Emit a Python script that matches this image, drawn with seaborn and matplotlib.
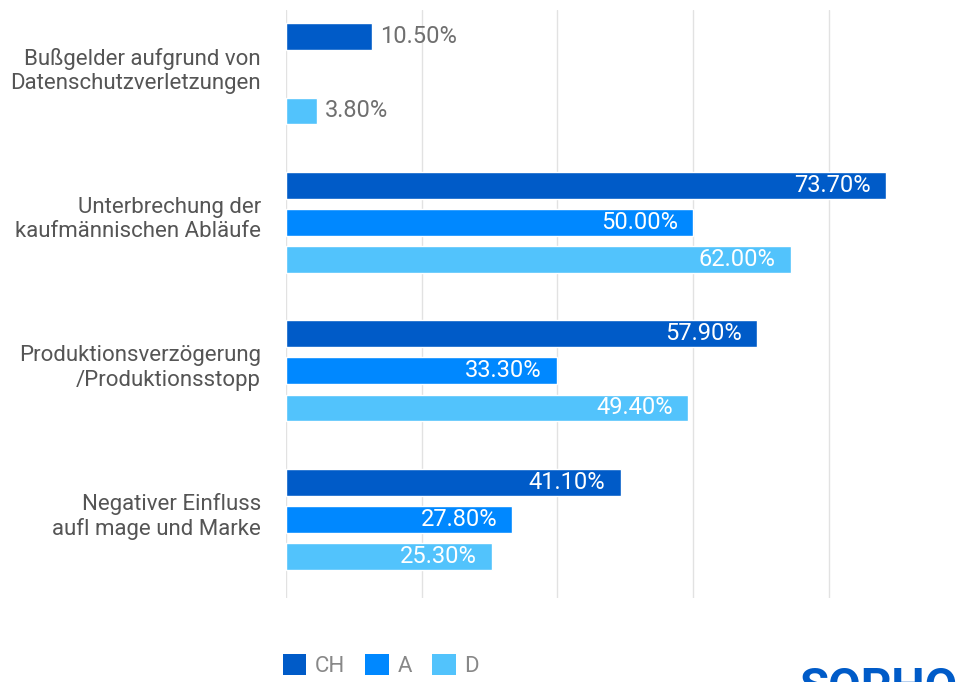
import numpy as np
import pandas as pd
import matplotlib
matplotlib.use("Agg")
import matplotlib.pyplot as plt
import matplotlib.transforms as mtransforms
from matplotlib.patches import Patch
import seaborn as sns

# Consequences of cyber attacks, share of respondents per country
categories = [
    "Bußgelder aufgrund von\nDatenschutzverletzungen",
    "Unterbrechung der\nkaufmännischen Abläufe",
    "Produktionsverzögerung\n/Produktionsstopp",
    "Negativer Einfluss\naufl mage und Marke",
]
countries = ["CH", "A", "D"]
ch_values = [10.5, 73.7, 57.9, 41.1]
a_values = [np.nan, 50.0, 33.3, 27.8]
d_values = [3.8, 62.0, 49.4, 25.3]
colors = ["#005BC8", "#0088FF", "#52C3FC"]

df = pd.DataFrame({
    "Kategorie": categories * 3,
    "Land": ["CH"] * 4 + ["A"] * 4 + ["D"] * 4,
    "Wert": ch_values + a_values + d_values,
})

sns.set_theme(style="white")
plt.rcParams["font.family"] = ["Roboto", "DejaVu Sans"]

fig = plt.figure(figsize=(9.57, 6.82), dpi=100)
ax = fig.add_axes([286 / 957, 1 - 598 / 682, 1 - 286 / 957, (598 - 10) / 682])

sns.barplot(
    data=df, y="Kategorie", x="Wert", hue="Land",
    order=categories, hue_order=countries, palette=colors,
    orient="h", width=0.75, gap=0.28, saturation=1,
    legend=False, ax=ax,
)

ax.set_xlim(0, 82.4)
ax.set_ylim(3.53, -0.43)
ax.set_xticks([0, 50 / 3, 100 / 3, 50, 200 / 3])
ax.set_xticklabels([])
ax.grid(axis="x", color="#e2e2e2", linewidth=1)
ax.set_axisbelow(True)
for s in ax.spines.values():
    s.set_visible(False)
ax.set_xlabel("")
ax.set_ylabel("")
ax.tick_params(axis="y", length=0, pad=18, labelsize=16, labelcolor="#555555")
ax.tick_params(axis="x", length=0)
# category labels sit slightly above the group centre
lift = mtransforms.ScaledTranslation(0, 7 / 100, fig.dpi_scale_trans)
for lbl in ax.get_yticklabels():
    lbl.set_linespacing(1.2)
    lbl.set_transform(lbl.get_transform() + lift)

# value labels: white inside long bars, grey beside short ones
for container in ax.containers:
    for bar in container:
        v = bar.get_width()
        if not np.isfinite(v) or v == 0:
            continue
        yc = bar.get_y() + bar.get_height() / 2
        txt = f"{v:.2f}%"
        if v > 20:
            ax.annotate(txt, (v, yc), xytext=(-11, 0), textcoords="offset points",
                        ha="right", va="center", color="white", fontsize=17)
        else:
            ax.annotate(txt, (v, yc), xytext=(6, 0), textcoords="offset points",
                        ha="left", va="center", color="#6f6f6f", fontsize=17)

handles = [Patch(facecolor=c, edgecolor="none", label=n) for c, n in zip(colors, countries)]
fig.legend(
    handles=handles, loc="upper left", bbox_to_anchor=(283 / 957, 1 - 654 / 682),
    ncol=3, frameon=False, fontsize=16, labelcolor="#888888",
    handlelength=1.05, handleheight=1.05, handletextpad=0.4, columnspacing=0.9,
    borderaxespad=0, borderpad=0,
)

fig.text(799 / 957, 1 - 666 / 682, "SOPHOS", color="#005BC8", fontsize=34,
         fontweight="bold", ha="left", va="top")

fig.savefig("out.png", dpi=100)
